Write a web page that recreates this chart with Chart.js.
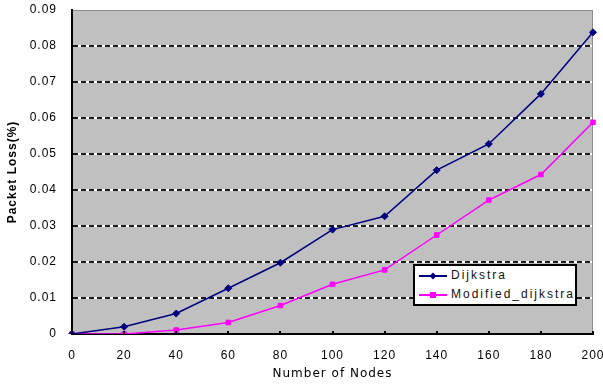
<!DOCTYPE html>
<html lang="en">
<head>
    <meta charset="UTF-8">
    <title>Packet Loss vs Number of Nodes</title>
    <script src="https://cdn.jsdelivr.net/npm/chart.js"></script>
    <style>
        body {
            margin: 0;
            padding: 0;
            background: #fff;
        }
        .wrap {
            position: relative;
            width: 603px;
            height: 385px;
        }
        #legendBox {
            position: absolute;
            left: 413px;
            top: 264px;
            width: 160px;
            height: 38px;
            background: #fff;
            border: 2px solid #000;
            font-family: Arial, "Liberation Sans", sans-serif;
            font-size: 12px;
            letter-spacing: 2px;
            color: #111;
        }
        .item {
            position: relative;
            height: 19px;
            line-height: 19px;
            padding-left: 36px;
        }
        .item .ln {
            position: absolute;
            left: 4px;
            top: 9px;
            width: 28px;
            height: 2px;
        }
        .item .mk {
            position: absolute;
            left: 15px;
            top: 7px;
            width: 6px;
            height: 6px;
        }
    </style>
</head>
<body>
<div class="wrap">
    <canvas id="lossChart" width="603" height="385"></canvas>
    <div id="legendBox"></div>
</div>

<script>
    // data
    const nodes = [0, 20, 40, 60, 80, 100, 120, 140, 160, 180, 200];
    const dijkstra = [0, 0.002, 0.0057, 0.0127, 0.0198, 0.029, 0.0327, 0.0455, 0.0528, 0.0667, 0.0838];
    const modifiedDijkstra = [0, 0, 0.0011, 0.0032, 0.0079, 0.0138, 0.0178, 0.0275, 0.0372, 0.0443, 0.0588];
    const yTicks = [0, 0.01, 0.02, 0.03, 0.04, 0.05, 0.06, 0.07, 0.08, 0.09];

    const FONT = 'Arial, "Liberation Sans", sans-serif';

    // grey plot area, white under the dashes, grey frame, tick marks on the x axis
    const plotBg = {
        id: 'plotBg',
        beforeLayout(chart) {
            chart.ctx.letterSpacing = '1px';
        },
        beforeDraw(chart) {
            const { ctx, chartArea: a, scales } = chart;
            ctx.letterSpacing = '1px';
            ctx.save();
            ctx.fillStyle = '#c0c0c0';
            ctx.fillRect(a.left, a.top, a.right - a.left, a.bottom - a.top);
            ctx.strokeStyle = '#ffffff';
            ctx.lineWidth = 2;
            yTicks.forEach(v => {
                if (v === 0 || v === yTicks[yTicks.length - 1]) return;
                const py = Math.round(scales.y.getPixelForValue(v));
                ctx.beginPath();
                ctx.moveTo(a.left, py);
                ctx.lineTo(a.right, py);
                ctx.stroke();
            });
            ctx.lineWidth = 1;
            ctx.strokeStyle = '#8c8c8c';
            ctx.strokeRect(a.left + 0.5, a.top + 0.5, a.right - a.left - 1, a.bottom - a.top - 1);
            ctx.restore();
        },
        afterDraw(chart) {
            const { ctx, chartArea: a, scales } = chart;
            ctx.save();
            ctx.fillStyle = '#000';
            nodes.forEach((n, i) => {
                const px = Math.round(scales.x.getPixelForValue(i));
                ctx.fillRect(px - 1, a.bottom - 3, 2, 4);
            });
            ctx.restore();
        }
    };

    const ctx = document.getElementById('lossChart').getContext('2d');
    const lossChart = new Chart(ctx, {
        type: 'line',
        data: {
            labels: nodes,
            datasets: [
                {
                    label: 'Dijkstra',
                    data: dijkstra,
                    borderColor: '#000080',
                    backgroundColor: '#000080',
                    borderWidth: 1.5,
                    pointStyle: 'rectRot',
                    pointRadius: 3.5,
                    pointBorderWidth: 1,
                    tension: 0,
                    fill: false
                },
                {
                    label: 'Modified_dijkstra',
                    data: modifiedDijkstra,
                    borderColor: '#ff00ff',
                    backgroundColor: '#ff00ff',
                    borderWidth: 1.5,
                    pointStyle: 'rect',
                    pointRadius: 3.2,
                    pointBorderWidth: 1,
                    tension: 0,
                    fill: false
                }
            ]
        },
        options: {
            responsive: false,
            animation: false,
            layout: { padding: { top: 10, right: 10, left: 0, bottom: 0 } },
            plugins: {
                legend: { display: false },
                tooltip: { enabled: false }
            },
            scales: {
                x: {
                    type: 'category',
                    offset: false,
                    grid: { display: false, drawTicks: false },
                    border: { display: true, color: '#000', width: 2 },
                    ticks: {
                        color: '#000',
                        padding: 14,
                        maxRotation: 0,
                        autoSkip: false,
                        font: { family: FONT, size: 12 }
                    },
                    title: {
                        display: true,
                        text: 'Number of Nodes',
                        color: '#000',
                        padding: { top: 0, bottom: 4 },
                        font: { family: '"DejaVu Sans", sans-serif', size: 12 }
                    },
                    afterFit(scale) {
                        scale.height = 51;
                        scale.paddingLeft = 0;
                        scale.paddingRight = 0;
                    }
                },
                y: {
                    min: yTicks[0],
                    max: yTicks[yTicks.length - 1],
                    afterBuildTicks(scale) {
                        scale.ticks = yTicks.map(v => ({ value: v }));
                    },
                    grid: {
                        drawTicks: false,
                        lineWidth: 2,
                        color: c => (c.tick && (c.tick.value === 0 || c.tick.value === yTicks[yTicks.length - 1])) ? 'rgba(0,0,0,0)' : '#1a1a1a',
                    },
                    border: { display: true, color: '#000', width: 2, dash: [5, 3] },
                    ticks: {
                        color: '#000',
                        padding: 15,
                        font: { family: FONT, size: 12 },
                        callback: v => v === 0 ? '0' : Number(v).toFixed(2)
                    },
                    title: {
                        display: true,
                        text: 'Packet Loss(%)',
                        color: '#000',
                        padding: { top: 5, bottom: 0 },
                        font: { family: FONT, size: 12, weight: 'bold' }
                    },
                    afterFit(scale) {
                        scale.width = 72;
                        scale.paddingTop = 0;
                        scale.paddingBottom = 0;
                    }
                }
            }
        },
        plugins: [plotBg]
    });

    // build the boxed legend from the datasets
    const legendBox = document.getElementById('legendBox');
    lossChart.data.datasets.forEach(ds => {
        const item = document.createElement('div');
        item.className = 'item';
        const ln = document.createElement('span');
        ln.className = 'ln';
        ln.style.background = ds.borderColor;
        const mk = document.createElement('span');
        mk.className = 'mk';
        mk.style.background = ds.borderColor;
        if (ds.pointStyle === 'rectRot') mk.style.transform = 'rotate(45deg) scale(0.8)';
        const txt = document.createElement('span');
        txt.textContent = ds.label;
        item.appendChild(ln);
        item.appendChild(mk);
        item.appendChild(txt);
        legendBox.appendChild(item);
    });
</script>
</body>
</html>
